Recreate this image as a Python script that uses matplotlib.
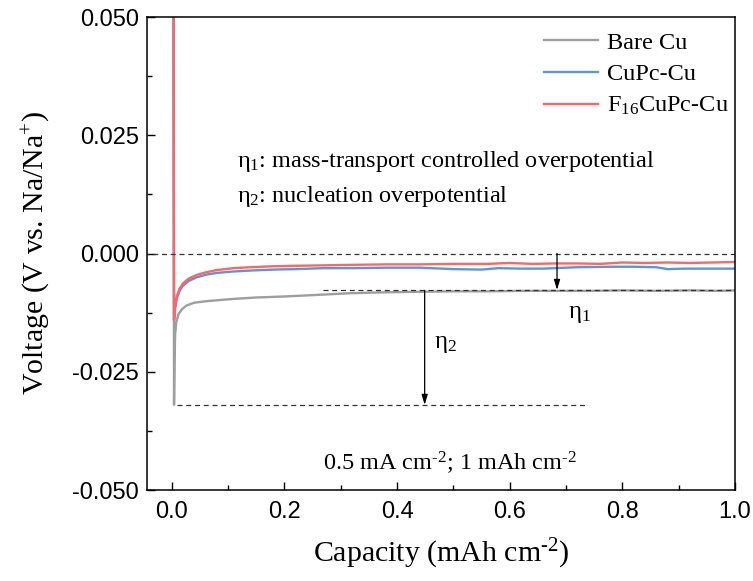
"""Na plating voltage profiles on bare / CuPc / F16CuPc coated Cu."""

import matplotlib
matplotlib.use("Agg")
import matplotlib.pyplot as plt
from matplotlib.ticker import MultipleLocator

# capacity (mAh cm-2) and voltage (V)
bare_x = [0.003, 0.004, 0.005, 0.006, 0.008, 0.012, 0.018, 0.026, 0.040, 0.060, 0.079,
          0.11, 0.15, 0.197, 0.25, 0.316, 0.38, 0.435, 0.50, 0.56, 0.62, 0.68,
          0.74, 0.80, 0.86, 0.92, 0.97, 1.0]
bare_y = [0.060, -0.032, -0.022, -0.017, -0.0145, -0.0128, -0.0118, -0.0110, -0.0104, -0.0101,
          -0.0099, -0.0096, -0.0093, -0.0091, -0.0088, -0.0084, -0.0082, -0.0081, -0.0080,
          -0.0080, -0.0079, -0.0079, -0.0079, -0.0078, -0.0079, -0.0078, -0.0079, -0.0078]

cupc_x = [0.003, 0.004, 0.006, 0.009, 0.014, 0.020, 0.030, 0.045, 0.060, 0.080, 0.11,
          0.14, 0.18, 0.22, 0.27, 0.32, 0.38, 0.44, 0.50, 0.55, 0.58, 0.62, 0.66,
          0.72, 0.78, 0.82, 0.86, 0.88, 0.91, 0.95, 1.0]
cupc_y = [0.060, -0.014, -0.0115, -0.0095, -0.0078, -0.0068, -0.0058, -0.0050, -0.0045,
          -0.0041, -0.0038, -0.0036, -0.0034, -0.0033, -0.0031, -0.0031, -0.0030, -0.0030,
          -0.0033, -0.0034, -0.0031, -0.0032, -0.0032, -0.0029, -0.0028, -0.0028, -0.0029,
          -0.0033, -0.0032, -0.0032, -0.0032]

f16_x = [0.003, 0.004, 0.006, 0.009, 0.014, 0.020, 0.030, 0.045, 0.060, 0.080, 0.11,
         0.14, 0.18, 0.22, 0.27, 0.32, 0.38, 0.44, 0.50, 0.56, 0.60, 0.64, 0.68,
         0.72, 0.76, 0.80, 0.84, 0.88, 0.92, 0.96, 1.0]
f16_y = [0.060, -0.014, -0.0110, -0.0090, -0.0074, -0.0063, -0.0053, -0.0045, -0.0040,
         -0.0035, -0.0031, -0.0029, -0.0027, -0.0026, -0.0025, -0.0024, -0.0023, -0.0023,
         -0.0022, -0.0022, -0.0020, -0.0022, -0.0021, -0.0021, -0.0022, -0.0019, -0.0020,
         -0.0019, -0.0020, -0.0019, -0.0018]

series_labels = ["Bare Cu", "CuPc-Cu", "F$_{16}$CuPc-Cu"]
series_colors = ["#9E9E9E", "#5E95D2", "#F9676B"]

# overpotential guides
eta1_top, eta1_bottom, eta1_x = 0.0, -0.0077, 0.684
eta2_top, eta2_bottom, eta2_x = -0.0078, -0.032, 0.449


def main():
    plt.rcParams["font.family"] = ["Liberation Serif", "DejaVu Serif"]
    plt.rcParams["mathtext.fontset"] = "custom"
    plt.rcParams["mathtext.rm"] = "Liberation Serif"
    plt.rcParams["mathtext.it"] = "Liberation Serif:italic"

    fig = plt.figure(figsize=(7.53, 5.81), dpi=100)
    ax = fig.add_axes([147 / 753, 1 - 490 / 581, (735 - 147) / 753, (490 - 17) / 581])

    series = [(bare_x, bare_y), (cupc_x, cupc_y), (f16_x, f16_y)]
    for (x, y), lab, col in zip(series, series_labels, series_colors):
        ax.plot(x, y, color=col, lw=1.7, label=lab)

    # dashed reference lines
    dash = dict(color="#333333", ls=(0, (4, 3)), lw=0.9)
    ax.plot([-0.05, 1.0], [0, 0], **dash)
    ax.plot([0.268, 1.0], [eta1_bottom, eta1_bottom], **dash)
    ax.plot([0.009, 0.739], [eta2_bottom, eta2_bottom], **dash)

    arrow = dict(arrowstyle="-|>,head_length=0.6,head_width=0.18", color="black", lw=0.9,
                 shrinkA=0, shrinkB=0)
    ax.annotate("", xy=(eta1_x, eta1_bottom), xytext=(eta1_x, eta1_top), arrowprops=arrow)
    ax.annotate("", xy=(eta2_x, eta2_bottom), xytext=(eta2_x, eta2_top), arrowprops=arrow)

    ax.text(0.703, -0.0128, "η$_1$", fontsize=18, va="center")
    ax.text(0.465, -0.0192, "η$_2$", fontsize=18, va="center")
    ax.text(0.115, 0.0195, "η$_1$: mass-transport controlled overpotential", fontsize=17.5, va="center")
    ax.text(0.115, 0.0120, "η$_2$: nucleation overpotential", fontsize=17.5, va="center")
    ax.text(0.494, -0.0442, r"0.5 mA cm$^{\text{-}2}$; 1 mAh cm$^{\text{-}2}$",
            fontsize=17.5, ha="center", va="center")

    ax.set_xlim(-0.044, 1.0)
    ax.set_ylim(-0.05, 0.05)
    ax.xaxis.set_major_locator(MultipleLocator(0.2))
    ax.xaxis.set_minor_locator(MultipleLocator(0.1))
    ax.yaxis.set_major_locator(MultipleLocator(0.025))
    ax.yaxis.set_minor_locator(MultipleLocator(0.0125))
    ax.xaxis.set_major_formatter(plt.FuncFormatter(lambda v, p: f"{v:.1f}"))
    ax.yaxis.set_major_formatter(plt.FuncFormatter(lambda v, p: f"{v:.3f}"))
    ax.tick_params(which="both", direction="in", width=1.0)
    ax.tick_params(which="major", length=6)
    ax.tick_params(which="minor", length=3.5)
    for lbl in ax.get_xticklabels() + ax.get_yticklabels():
        lbl.set_fontfamily("Liberation Sans")
        lbl.set_fontsize(17)
    ax.tick_params(axis="x", pad=8)
    ax.tick_params(axis="y", pad=6)
    for s in ax.spines.values():
        s.set_linewidth(1.1)

    ax.set_xlabel(r"Capacity (mAh cm$^{\text{-}2}$)", fontsize=21.5, labelpad=10)
    ax.set_ylabel("Voltage (V vs. Na/Na$^{+}$)", fontsize=21.5, labelpad=14)

    ax.legend(loc="upper right", frameon=False, fontsize=17.5, handlelength=2.2,
              handletextpad=0.4, labelspacing=0.4, borderaxespad=0.2,
              bbox_to_anchor=(1.015, 1.0))

    fig.savefig("out.png", dpi=100)


if __name__ == "__main__":
    main()
